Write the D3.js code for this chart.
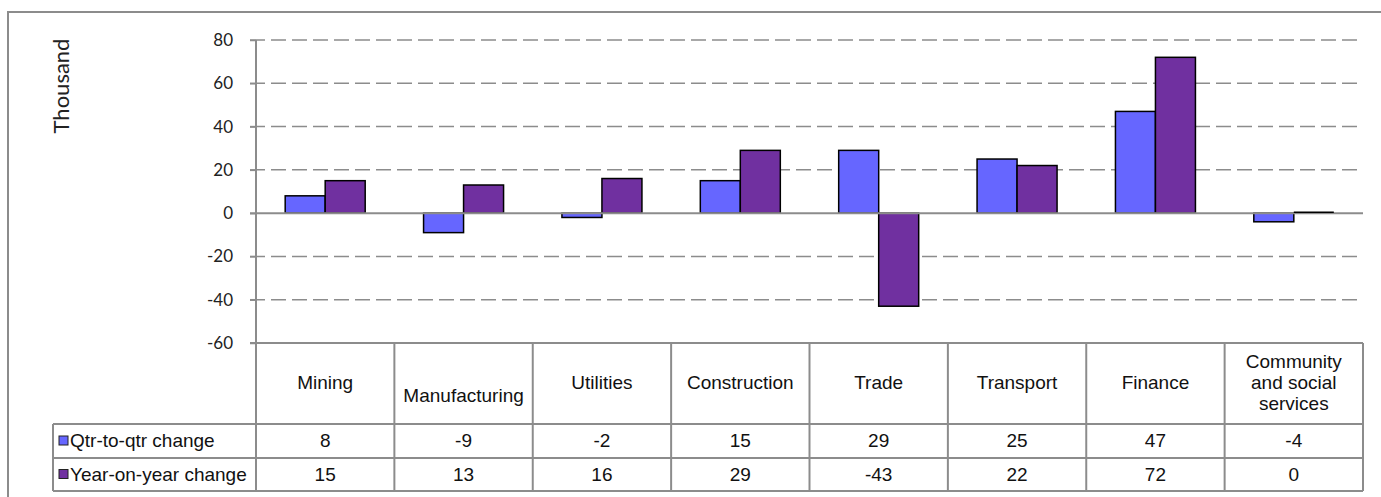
<!DOCTYPE html>
<html><head><meta charset="utf-8">
<script src="https://cdn.jsdelivr.net/npm/d3@7"></script>
<style>html,body{margin:0;padding:0;background:#fff;} svg{display:block;}</style>
</head><body>
<svg id="chart" width="1381" height="497"></svg>
<script>
const categories = ["Mining","Manufacturing","Utilities","Construction","Trade","Transport","Finance","Community and social services"];
const headerLines = [["Mining"],["Manufacturing"],["Utilities"],["Construction"],["Trade"],["Transport"],["Finance"],["Community","and social","services"]];
const seriesNames = ["Qtr-to-qtr change","Year-on-year change"];
const qtrValues = [8,-9,-2,15,29,25,47,-4];
const yoyValues = [15,13,16,29,-43,22,72,0];
const yTicks = [-60,-40,-20,0,20,40,60,80];
const colors = ["#6666FF","#7030A0"];

const svg = d3.select("#chart");
const plotL = 256, plotR = 1363, plotT = 40, plotB = 343;
const rowY = [343, 424, 458, 491];
const legendL = 53;
const axisFont = "Lato, 'Open Sans', sans-serif";
const tableFont = "'Liberation Sans', Arial, sans-serif";
const grey = "#8c8c8c";
const tableSize = 19;

// outer frame
svg.append("rect").attr("x",8).attr("y",12).attr("width",1400).attr("height",520)
  .attr("fill","none").attr("stroke",grey).attr("stroke-width",2);

const y = d3.scaleLinear().domain([-60,80]).range([plotB, plotT]);
const x0 = d3.scaleBand().domain(categories).range([plotL, plotR]).padding(0);
const barW = 40;
const x1 = d3.scaleBand().domain(seriesNames)
  .range([x0.bandwidth()/2 - barW, x0.bandwidth()/2 + barW]).padding(0);

// gridlines
svg.append("g").selectAll("line").data(yTicks.filter(t => t !== 0 && t !== -60)).join("line")
  .attr("x1", plotL-6).attr("x2", plotR)
  .attr("y1", d => y(d)).attr("y2", d => y(d))
  .attr("stroke", grey).attr("stroke-width", 1.5).attr("stroke-dasharray","15,6");

// y axis
const yAxis = d3.axisLeft(y).tickValues(yTicks).tickSize(6).tickPadding(17).tickFormat(d => String(d));
const ag = svg.append("g").attr("transform", `translate(${plotL},0)`).call(yAxis);
ag.select(".domain").remove();
ag.selectAll(".tick line").attr("stroke", grey).attr("stroke-width",1.5);
ag.selectAll(".tick text").attr("font-family", axisFont).attr("font-size", 17).attr("fill","#222");

// bars
const series = [qtrValues, yoyValues];
const bars = svg.append("g");
const zeroBars = [];
categories.forEach((c, i) => {
  seriesNames.forEach((s, j) => {
    const v = series[j][i];
    if (v === 0) { zeroBars.push({c, s, j}); return; }
    bars.append("rect")
      .attr("x", x0(c) + x1(s))
      .attr("y", y(Math.max(0, v)))
      .attr("width", x1.bandwidth())
      .attr("height", Math.abs(y(v) - y(0)))
      .attr("fill", colors[j]).attr("stroke", "#000").attr("stroke-width", 1.5);
  });
});

// zero line and axis line
svg.append("line").attr("x1", plotL-6).attr("x2", plotR).attr("y1", y(0)).attr("y2", y(0))
  .attr("stroke", grey).attr("stroke-width", 2);
svg.append("line").attr("x1", plotL).attr("x2", plotL).attr("y1", plotT).attr("y2", rowY[3])
  .attr("stroke", grey).attr("stroke-width", 2);

// zero-height bars shown as a thin line
zeroBars.forEach(d => {
  svg.append("line").attr("x1", x0(d.c) + x1(d.s)).attr("x2", x0(d.c) + x1(d.s) + x1.bandwidth())
    .attr("y1", y(0) - 1).attr("y2", y(0) - 1).attr("stroke", "#000").attr("stroke-width", 1.5);
});

// Thousand label
svg.append("text").attr("transform","translate(69,86) rotate(-90)")
  .attr("text-anchor","middle").attr("font-family", axisFont).attr("font-size", 22).attr("fill","#222")
  .text("Thousand");

// data table
const tg = svg.append("g");
tg.append("line").attr("x1", plotL-6).attr("x2", plotR).attr("y1", rowY[0]).attr("y2", rowY[0]).attr("stroke", grey).attr("stroke-width", 2);
[1,2,3].forEach(r => tg.append("line").attr("x1", legendL).attr("x2", plotR).attr("y1", rowY[r]).attr("y2", rowY[r]).attr("stroke", grey).attr("stroke-width", 2));
tg.append("line").attr("x1", legendL).attr("x2", legendL).attr("y1", rowY[1]).attr("y2", rowY[3]).attr("stroke", grey).attr("stroke-width", 2);
categories.forEach(c => {
  tg.append("line").attr("x1", x0(c)+x0.bandwidth()).attr("x2", x0(c)+x0.bandwidth())
    .attr("y1", rowY[0]).attr("y2", rowY[3]).attr("stroke", grey).attr("stroke-width", 2);
});

// header text
categories.forEach((c, i) => {
  const lines = headerLines[i];
  const lh = 21;
  const cx = x0(c) + x0.bandwidth()/2;
  const mid = (rowY[0] + rowY[1]) / 2 + (c === "Manufacturing" ? 11 : -2);
  const t = tg.append("text").attr("text-anchor","middle").attr("font-family", tableFont)
    .attr("font-size", tableSize).attr("fill","#111");
  lines.forEach((ln, k) => {
    t.append("tspan").attr("x", cx)
      .attr("y", mid + (k - (lines.length-1)/2) * lh + 7)
      .text(ln);
  });
});

// rows
series.forEach((vals, j) => {
  const cy = (rowY[j+1] + rowY[j+2]) / 2;
  tg.append("rect").attr("x", legendL+6).attr("y", cy-5).attr("width", 9).attr("height", 9)
    .attr("fill", colors[j]).attr("stroke", "#222").attr("stroke-width", 1);
  tg.append("text").attr("x", legendL+17).attr("y", cy+6).attr("font-family", tableFont)
    .attr("font-size", tableSize).attr("fill","#111").text(seriesNames[j]);
  categories.forEach((c, i) => {
    tg.append("text").attr("x", x0(c)+x0.bandwidth()/2).attr("y", cy+6)
      .attr("text-anchor","middle").attr("font-family", tableFont).attr("font-size", tableSize)
      .attr("fill","#111").text(vals[i]);
  });
});
</script>
</body></html>
